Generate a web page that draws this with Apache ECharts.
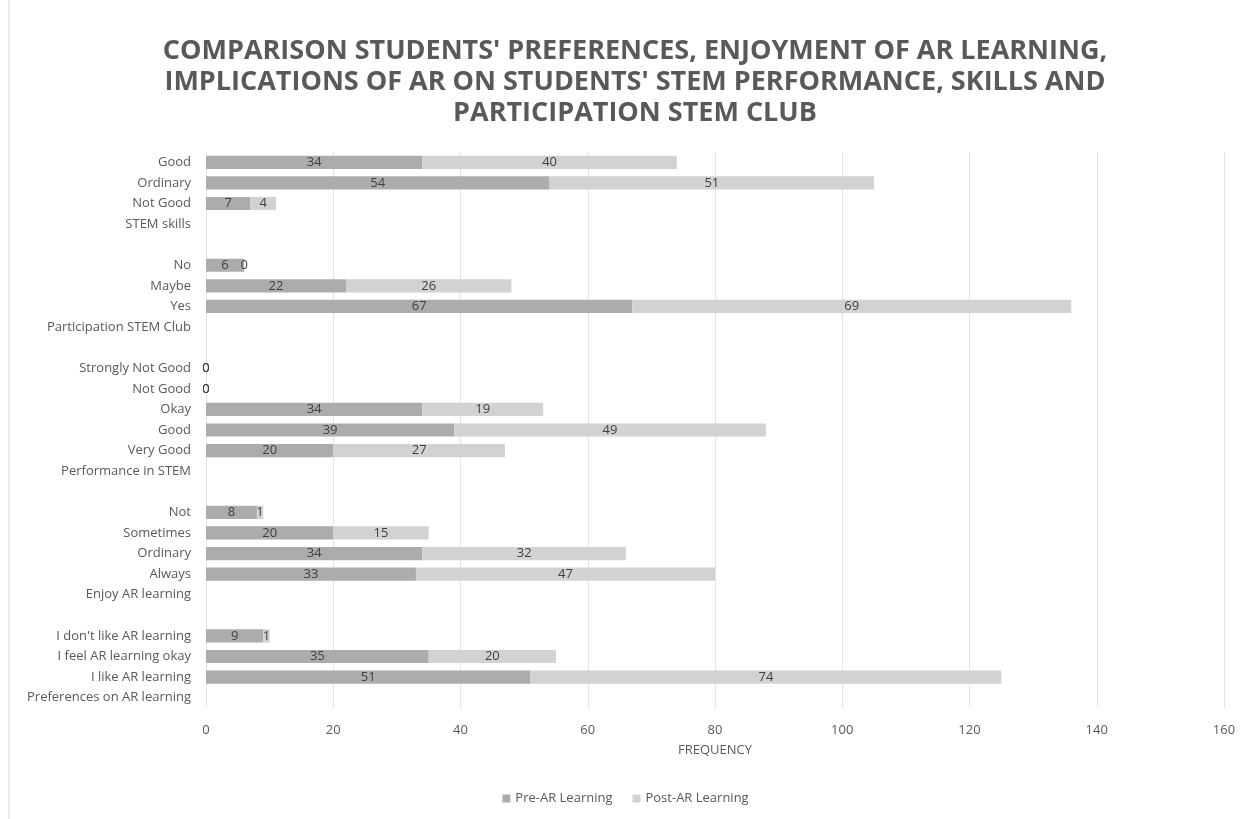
<!DOCTYPE html>
<html>
<head>
<meta charset="utf-8">
<script src="https://cdn.jsdelivr.net/npm/echarts@6/dist/echarts.min.js"></script>
<style>
    html, body { margin: 0; padding: 0; background: #fff; }
    #main { width: 1251px; height: 819px; }
</style>
</head>
<body>
<div id="main"></div>
<script>
// 类目（从下到上）
var categories = [
    'Preferences on AR learning', 'I like AR learning', 'I feel AR learning okay', "I don't like AR learning", '',
    'Enjoy AR learning', 'Always', 'Ordinary', 'Sometimes', 'Not', ' ',
    'Performance in STEM', 'Very Good', 'Good', 'Okay', 'Not Good', 'Strongly Not Good', '  ',
    'Participation STEM Club', 'Yes', 'Maybe', 'No', '   ',
    'STEM skills', 'Not Good ', 'Ordinary ', 'Good '
];
var preValues = [
    '-', 51, 35, 9, '-',
    '-', 33, 34, 20, 8, '-',
    '-', 20, 39, 34, 0, 0, '-',
    '-', 67, 22, 6, '-',
    '-', 7, 54, 34
];
var postValues = [
    '-', 74, 20, 1, '-',
    '-', 47, 32, 15, 1, '-',
    '-', 27, 49, 19, 0, 0, '-',
    '-', 69, 26, 0, '-',
    '-', 4, 51, 40
];
var seriesNames = ['Pre-AR Learning', 'Post-AR Learning'];
var titleText = "COMPARISON STUDENTS' PREFERENCES, ENJOYMENT OF AR LEARNING,\nIMPLICATIONS OF AR ON STUDENTS' STEM PERFORMANCE, SKILLS AND\nPARTICIPATION STEM CLUB";

var fontName = '"Open Sans", "Noto Sans", sans-serif';
var txtColor = '#595959';

var chart = echarts.init(document.getElementById('main'));
var option = {
    backgroundColor: '#fff',
    color: ['#acacac', '#d2d2d2'],
    textStyle: { fontFamily: fontName },
    title: {
        text: titleText,
        left: 630,
        top: 31,
        textAlign: 'center',
        textStyle: {
            color: txtColor,
            fontSize: 27,
            fontWeight: 'bold',
            lineHeight: 31,
            fontFamily: fontName
        }
    },
    graphic: [{
        type: 'rect',
        shape: { x: 9, y: -5, width: 1260, height: 840 },
        style: { fill: 'none', stroke: '#d9d9d9', lineWidth: 1 },
        silent: true
    }],
    legend: {
        data: seriesNames,
        bottom: 9,
        left: 'center',
        itemWidth: 8,
        itemHeight: 8,
        itemGap: 20,
        icon: 'rect',
        textStyle: { color: txtColor, fontSize: 13, fontFamily: fontName }
    },
    grid: {
        left: 206,
        right: 27,
        top: 152,
        bottom: 111,
        containLabel: false
    },
    xAxis: {
        type: 'value',
        min: 0,
        max: 160,
        interval: 20,
        name: 'FREQUENCY',
        nameLocation: 'middle',
        nameGap: 36,
        nameTextStyle: { color: txtColor, fontSize: 13 },
        axisLine: { show: false },
        axisTick: { show: false },
        axisLabel: { color: txtColor, fontSize: 13, margin: 16 },
        splitLine: { show: true, lineStyle: { color: '#e4e4e4', width: 1 } }
    },
    yAxis: {
        type: 'category',
        data: categories,
        axisLine: { show: false },
        axisTick: { show: false },
        axisLabel: {
            color: txtColor,
            fontSize: 13,
            margin: 15,
            interval: 0,
            formatter: function (v) {
                return v.trim();
            }
        }
    },
    series: [{
        name: seriesNames[0],
        type: 'bar',
        stack: 'total',
        barCategoryGap: '36%',
        data: preValues,
        label: {
            show: true,
            position: 'inside',
            color: '#404040',
            fontSize: 13
        }
    }, {
        name: seriesNames[1],
        type: 'bar',
        stack: 'total',
        barCategoryGap: '36%',
        data: postValues,
        label: {
            show: true,
            position: 'inside',
            color: '#404040',
            fontSize: 13
        }
    }]
};
chart.setOption(option);
window.addEventListener('resize', chart.resize);
</script>
</body>
</html>
